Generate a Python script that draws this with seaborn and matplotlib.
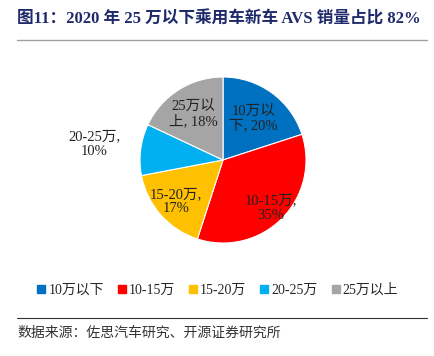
import numpy as np
import matplotlib
matplotlib.use("Agg")
import matplotlib.pyplot as plt
import seaborn as sns
from matplotlib.lines import Line2D

# 数据
类别 = ['10万以下', '10-15万', '15-20万', '20-25万', '25万以上']
占比 = [20, 35, 17, 10, 18]
标签 = ['10万以\n下, 20%', '10-15万,\n35%', '15-20万,\n17%', '20-25万,\n10%', '25万以\n上, 18%']
颜色 = ['#0070C0', '#FF0000', '#FFC000', '#00B0F0', '#A5A5A5']

sns.set_theme(style="white")
plt.rcParams['font.family'] = ['Liberation Serif', 'Noto Sans CJK SC']

fig = plt.figure(figsize=(4.34, 3.56), dpi=100)
ax = fig.add_axes([0.3226, 0.3174, 0.3825, 0.4663])

wedges, _ = ax.pie(占比, colors=sns.color_palette(颜色), startangle=90, counterclock=False,
                   radius=1.0, wedgeprops=dict(linewidth=0.8, edgecolor='white'))
ax.set_aspect('equal')
ax.set_xlim(-1, 1)
ax.set_ylim(-1, 1)
ax.axis('off')

# 标签位置（沿扇区中线）
距离 = [0.62, 0.82, 0.76, 1.56, 0.66]
for w, lab, d in zip(wedges, 标签, 距离):
    ang = np.deg2rad((w.theta1 + w.theta2) / 2)
    ax.text(d * np.cos(ang), d * np.sin(ang), lab, ha='center', va='center',
            fontsize=10.5, color='#222222', linespacing=1.15)

# 图例
handles = [Line2D([0], [0], marker='s', linestyle='', markersize=5.5,
                  markerfacecolor=c, markeredgecolor=c) for c in 颜色]
fig.legend(handles, 类别, loc='center', bbox_to_anchor=(0.5, 1 - 290 / 356), ncol=5,
           frameon=False, fontsize=10, handletextpad=0.1, columnspacing=0.9,
           handlelength=0.8, borderaxespad=0)

# 标题与来源
fig.text(17 / 434, 1 - 20 / 356, '图11：2020 年 25 万以下乘用车新车 AVS 销量占比 82%',
         fontsize=12, fontweight='bold', color='#1F2A6B', ha='left', va='center')
fig.add_artist(Line2D([17 / 434, 427 / 434], [1 - 40 / 356] * 2, color='#A0A0A0', linewidth=1.0))
fig.add_artist(Line2D([17 / 434, 427 / 434], [1 - 318 / 356] * 2, color='#333333', linewidth=0.8))
fig.text(17 / 434, 1 - 333 / 356, '数据来源：佐思汽车研究、开源证券研究所',
         fontsize=10, color='#333333', ha='left', va='center')

fig.savefig('out.png', dpi=100)
